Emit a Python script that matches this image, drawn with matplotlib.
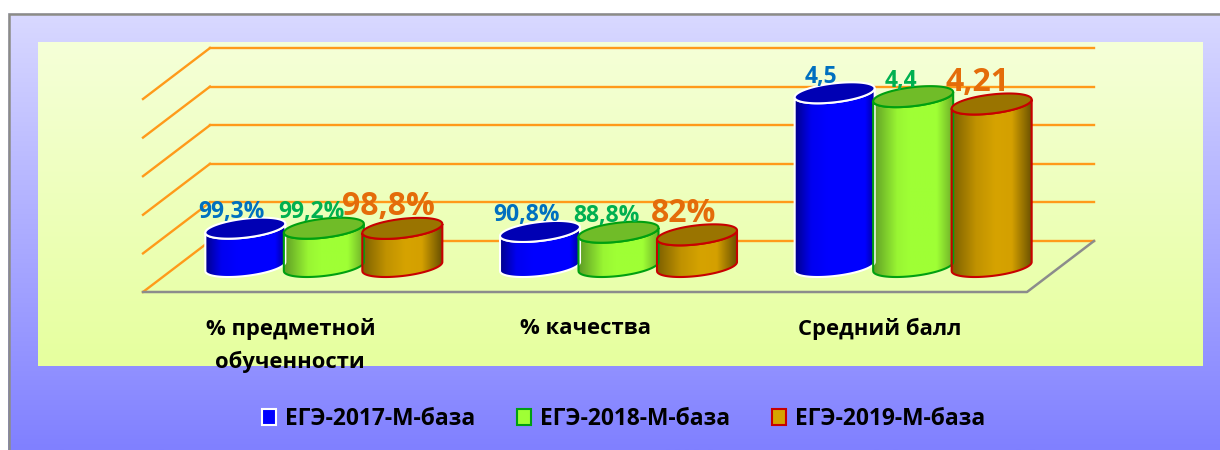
import numpy as np
import matplotlib
matplotlib.use('Agg')
import matplotlib.pyplot as plt
from matplotlib.patches import PathPatch, Patch, Rectangle
from matplotlib.path import Path
from matplotlib.colors import LinearSegmentedColormap

plt.rcParams['font.family'] = ['Open Sans', 'Noto Sans', 'DejaVu Sans']

categories = ['% предметной\nобученности', '% качества', 'Средний балл']
years = ['ЕГЭ-2017-М-база', 'ЕГЭ-2018-М-база', 'ЕГЭ-2019-М-база']
# percent groups are stored as fractions, the axis runs 0..5 with the mean score
values_2017 = [0.993, 0.908, 4.5]
values_2018 = [0.992, 0.888, 4.4]
values_2019 = [0.988, 0.82, 4.21]
labels_2017 = ['99,3%', '90,8%', '4,5']
labels_2018 = ['99,2%', '88,8%', '4,4']
labels_2019 = ['98,8%', '82%', '4,21']
y_ticks = [0, 1, 2, 3, 4, 5]

W, H = 1220, 450
PX_X = 884 / 3       # pixels per category
PX_Y = 38.6          # pixels per axis unit
DX = 67 / PX_X       # depth of the floor
DY = 51 / PX_Y
BAR_W = 80 / PX_X
BAR_STEP = 78.5 / PX_X
ELL_B = 9.5 / PX_Y
ELL_S = 4.5 / PX_Y

styles = [
    dict(side=[(0, '#00008c'), (0.2, '#0000f0'), (0.4, '#0000ff'), (0.88, '#0000ff'), (1, '#00009c')],
         top='#0000b4', edge='white', text='#0070c0', size=16.5, off=(-10, 11.5)),
    dict(side=[(0, '#5f9e25'), (0.3, '#99f533'), (0.45, '#9fff35'), (0.8, '#9fff35'), (1, '#6fb028')],
         top='#70bc28', edge='#00a010', text='#00b050', size=16.5, off=(-9, 11.5)),
    dict(side=[(0, '#7d6000'), (0.3, '#c09200'), (0.55, '#d6a300'), (0.75, '#d4a000'), (1, '#6b5200')],
         top='#9a7400', edge='#c80000', text='#e46c0a', size=23, off=(-10, 15.5)),
]


def px_axes(fig, left, top, right, bottom):
    return fig.add_axes([left / W, 1 - bottom / H, (right - left) / W, (bottom - top) / H])


def gradient_panel(fig, left, top, right, bottom, c_top, c_bottom):
    a = px_axes(fig, left, top, right, bottom)
    cmap = LinearSegmentedColormap.from_list('bg', [c_top, c_bottom])
    a.imshow(np.linspace(0, 1, 256).reshape(-1, 1), cmap=cmap, aspect='auto')
    a.axis('off')
    return a


def cylinder(ax, xc, value, style):
    base = DY / 2
    xb = xc + DX / 2
    t = np.linspace(0, np.pi, 60)
    # bottom front arc, then back up the right side and along the top front arc
    bx = xb - BAR_W / 2 * np.cos(t)
    by = base + ELL_S * -np.cos(t) - ELL_B * np.sin(t)
    tx = bx[::-1]
    ty = (by + value)[::-1]
    body = Path(np.column_stack([np.r_[bx, tx, bx[0]], np.r_[by, ty, by[0]]]))
    cmap = LinearSegmentedColormap.from_list('side', style['side'])
    im = ax.imshow(np.linspace(0, 1, 128).reshape(1, -1), cmap=cmap, aspect='auto',
                   extent=[xb - BAR_W / 2, xb + BAR_W / 2, base - 1, base + value + 1],
                   zorder=3, clip_on=True)
    body_patch = PathPatch(body, fc='none', ec=style['edge'], lw=1.5, zorder=3.1, clip_on=False)
    ax.add_patch(body_patch)
    im.set_clip_path(body_patch)
    a = np.linspace(0, 2 * np.pi, 120)
    ex = xb + BAR_W / 2 * np.cos(a)
    ey = base + value + ELL_S * np.cos(a) + ELL_B * np.sin(a)
    ax.add_patch(PathPatch(Path(np.column_stack([ex, ey])), fc=style['top'], ec=style['edge'],
                           lw=1.5, zorder=3.2, clip_on=False))
    return xb, base + value


fig = plt.figure(figsize=(W / 100, H / 100), dpi=100, facecolor='white')
gradient_panel(fig, 8, 13, 1220, 450, '#d9d9ff', '#8080ff')
fig.add_artist(Rectangle((8.5 / W, -0.01), 1.1, 1 - 13.5 / H + 0.01, fc='none', ec='#8c8c86', lw=1.8,
                         transform=fig.transFigure))
gradient_panel(fig, 38, 42, 1203, 366, '#f5ffd8', '#e6ff9e')

ax = px_axes(fig, 143, 47, 1094, 292)
ax.patch.set_alpha(0)
ax.axis('off')

xl, xr = -0.5, 2.5
for v in y_ticks:
    ax.plot([xl, xl + DX], [v, v + DY], color='#ff9a1a', lw=1.7, clip_on=False, zorder=1)
    ax.plot([xl + DX, xr + DX], [v + DY, v + DY], color='#ff9a1a', lw=1.7, clip_on=False, zorder=1)
ax.plot([xl, xr, xr + DX], [0, 0, DY], color='#8c8c8c', lw=1.8, clip_on=False, zorder=2)

all_values = [values_2017, values_2018, values_2019]
all_labels = [labels_2017, labels_2018, labels_2019]
for i, (vals, labs, st) in enumerate(zip(all_values, all_labels, styles)):
    for j, (v, lab) in enumerate(zip(vals, labs)):
        xb, yt = cylinder(ax, j + (i - 1) * BAR_STEP, v, st)
        ax.annotate(lab, (xb, yt), xytext=st['off'], textcoords='offset points', ha='center',
                    va='center', color=st['text'], fontsize=st['size'], fontweight='bold',
                    zorder=5, annotation_clip=False)

for j, c in enumerate(categories):
    ax.annotate(c, (j, 0), xytext=(0, -18.5), textcoords='offset points', ha='center', va='top',
                fontsize=15.8, fontweight='bold', color='black', linespacing=1.62,
                annotation_clip=False)

ax.set_xlim(xl, xr + DX)
ax.set_ylim(0, 245 / PX_Y)

handles = [Patch(fc=s['side'][2][1], ec=s['edge'], lw=1.5) for s in styles]
fig.legend(handles, years, ncols=3, loc='center', bbox_to_anchor=(624 / W, 1 - 419 / H), frameon=False,
           prop=dict(size=16.4, weight='bold'), handlelength=0.61, handleheight=0.7,
           handletextpad=0.4, columnspacing=1.84, labelcolor='black')

fig.savefig('out.png', dpi=100)
